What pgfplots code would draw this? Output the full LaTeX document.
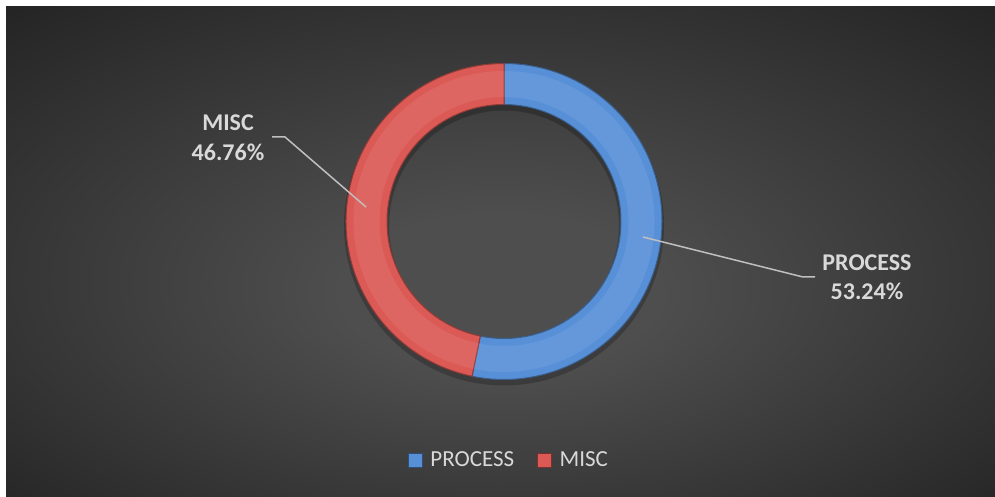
\documentclass[border=0pt]{standalone}
\usepackage{pgfplots}
\pgfplotsset{compat=1.18}
\usepackage{pgfplotstable}
\usepackage{fontspec}
\setmainfont{Carlito}

\definecolor{procblue}{HTML}{5890D8}
\definecolor{miscred}{HTML}{DB5A55}
\definecolor{lbl}{HTML}{D9D9D9}
\definecolor{leader}{HTML}{BFBFBF}
\definecolor{bgin}{HTML}{4E4E4E}
\definecolor{bgout}{HTML}{252525}
\pgfdeclareradialshading{chartbg}{\pgfpoint{0bp}{-5bp}}{color(0bp)=(bgin); color(8bp)=(bgin); color(36bp)=(bgout); color(50bp)=(bgout)}

% share of each slice, percent
\pgfplotstableread{
name share
PROCESS 53.24
MISC 46.76
}\shares

\begin{document}
\begin{tikzpicture}
\pgfplotstablegetelem{0}{share}\of\shares \let\shareA\pgfplotsretval
\pgfplotstablegetelem{1}{share}\of\shares \let\shareB\pgfplotsretval
\pgfmathsetmacro\angA{90-3.6*\shareA}
\pgfmathsetmacro\angB{\angA-3.6*\shareB}
\def\Ro{158pt}
\def\Ri{117pt}
\begin{axis}[
    hide axis, scale only axis,
    width=995pt, height=497pt,
    xmin=0, xmax=995, ymin=0, ymax=497,
    clip=false,
    legend columns=2,
    legend style={at={(axis cs:509,37)}, anchor=center, draw=none, fill=none,
        text=lbl, font=\fontsize{23}{28}\selectfont,
        /tikz/every odd column/.append style={column sep=6pt},
        /tikz/every even column/.append style={column sep=21pt}},
]
% background
\path (axis cs:0,0) rectangle (axis cs:995,497);
\shade[shading=chartbg] (axis cs:6,0) rectangle (axis cs:995,490);

\coordinate (C) at (axis cs:504,275.5);
% soft shadow under the ring
\fill[black, opacity=0.22, even odd rule]
    ([yshift=-4pt]C) circle[radius=160pt] ([yshift=-4pt]C) circle[radius=115pt];

% PROCESS slice
\fill[procblue, draw=procblue!65!black, line width=1pt]
    ([shift={(90:\Ro)}]C) arc[start angle=90, end angle=\angA, radius=\Ro]
    -- ([shift={(\angA:\Ri)}]C) arc[start angle=\angA, end angle=90, radius=\Ri] -- cycle;
% MISC slice
\fill[miscred, draw=miscred!65!black, line width=1pt]
    ([shift={(\angA:\Ro)}]C) arc[start angle=\angA, end angle=\angB, radius=\Ro]
    -- ([shift={(\angB:\Ri)}]C) arc[start angle=\angB, end angle=\angA, radius=\Ri] -- cycle;
% bevel highlight
\draw[white, opacity=0.08, line width=26pt] (C) circle[radius=137.5pt];

% leader lines
\draw[leader, line width=1.5pt] (axis cs:643,260) -- (axis cs:803,220) -- (axis cs:815,220);
\draw[leader, line width=1.5pt] (axis cs:272,360) -- (axis cs:285,360) -- (axis cs:366,290);

% data labels
\node[anchor=base, text=lbl, font=\fontsize{24}{29}\selectfont\bfseries] at (axis cs:867,226) {PROCESS};
\node[anchor=base, text=lbl, font=\fontsize{24}{29}\selectfont\bfseries] at (axis cs:867,197) {53.24\%};
\node[anchor=base, text=lbl, font=\fontsize{24}{29}\selectfont\bfseries] at (axis cs:228,366) {MISC};
\node[anchor=base, text=lbl, font=\fontsize{24}{29}\selectfont\bfseries] at (axis cs:228,336) {46.76\%};

\addlegendimage{legend image code/.code={\fill[procblue, draw=procblue!55!black] (0pt,-7pt) rectangle (14pt,7pt);}}
\addlegendentry{PROCESS}
\addlegendimage{legend image code/.code={\fill[miscred, draw=miscred!55!black] (0pt,-7pt) rectangle (14pt,7pt);}}
\addlegendentry{MISC}
\end{axis}
\end{tikzpicture}
\end{document}
